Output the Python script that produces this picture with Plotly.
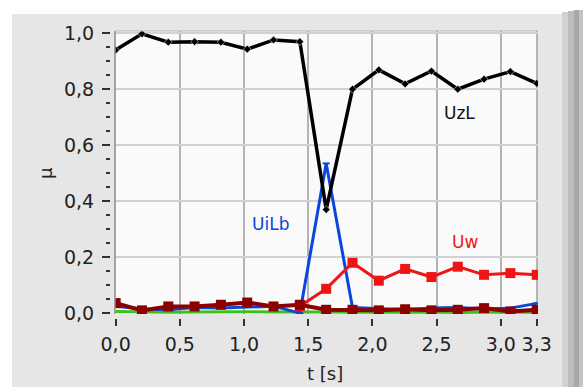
import plotly.graph_objects as go

W, H = 583, 387

t = [0.0, 0.205, 0.41, 0.615, 0.82, 1.025, 1.23, 1.435, 1.64, 1.845,
     2.05, 2.255, 2.46, 2.665, 2.87, 3.075, 3.28]
UzL = [0.94, 0.998, 0.968, 0.97, 0.968, 0.943, 0.976, 0.97, 0.37, 0.80,
       0.869, 0.819, 0.865, 0.80, 0.836, 0.863, 0.821]
UiLb = [0.025, 0.015, 0.012, 0.02, 0.018, 0.022, 0.025, 0.0, 0.535, 0.02,
        0.015, 0.012, 0.018, 0.02, 0.015, 0.018, 0.035]
Uw = [None, None, None, None, None, None, None, 0.025, 0.087, 0.18,
      0.116, 0.158, 0.129, 0.166, 0.137, 0.143, 0.137]
Udr = [0.036, 0.01, 0.024, 0.024, 0.03, 0.038, 0.024, 0.03, 0.012, 0.012,
       0.01, 0.014, 0.01, 0.012, 0.018, 0.006, 0.012]
Ugr = [0.006, 0.004, 0.003, 0.004, 0.005, 0.005, 0.004, 0.005, 0.004, 0.003,
       0.004, 0.004, 0.004, 0.002, 0.004, 0.003, 0.003]

x_ticks = [0, 0.5, 1.0, 1.5, 2.0, 2.5, 3.0, 3.28]
x_labels = ["0,0", "0,5", "1,0", "1,5", "2,0", "2,5", "3,0", "3,3"]
y_ticks = [0, 0.2, 0.4, 0.6, 0.8, 1.0]
y_labels = ["0,0", "0,2", "0,4", "0,6", "0,8", "1,0"]

# plot area in pixels
PL, PR, PT, PB = 115, 538, 31, 314

def px(v):
    return v / W

def py(v):
    return 1 - v / H

font = "DejaVu Sans"

fig = go.Figure()
fig.add_trace(go.Scatter(x=t, y=Ugr, mode="lines", line=dict(color="#3cc01e", width=3)))
fig.add_trace(go.Scatter(x=t, y=UiLb, mode="lines+markers",
                         line=dict(color="#0a46dc", width=3),
                         marker=dict(symbol="line-ew", size=5, line=dict(color="#0a46dc", width=2))))
fig.add_trace(go.Scatter(x=t, y=Uw, mode="lines+markers",
                         line=dict(color="#f01414", width=3),
                         marker=dict(symbol="square", size=10, color="#f01414")))
fig.add_trace(go.Scatter(x=t, y=Udr, mode="lines+markers",
                         line=dict(color="#8c0000", width=4),
                         marker=dict(symbol="square", size=10, color="#8c0000")))
fig.add_trace(go.Scatter(x=t, y=UzL, mode="lines+markers",
                         line=dict(color="#000000", width=3.5),
                         marker=dict(symbol="diamond", size=6, color="#000000",
                                     line=dict(color="#ffffff", width=0.5))))

shapes = [
    # grey panel
    dict(type="rect", xref="paper", yref="paper", x0=px(12), x1=1, y0=0, y1=py(14),
         fillcolor="#e6e6e6", line=dict(width=0), layer="below"),
    # plot background
    dict(type="rect", xref="paper", yref="paper", x0=px(PL), x1=px(PR), y0=py(PB), y1=py(PT),
         fillcolor="#fafafa", line=dict(width=0), layer="below"),
    # right shadow bar
    dict(type="rect", xref="paper", yref="paper", x0=px(562), x1=px(568), y0=0, y1=py(12),
         fillcolor="#d2d2d2", line=dict(width=0), layer="below"),
    dict(type="rect", xref="paper", yref="paper", x0=px(568), x1=px(574), y0=0, y1=py(11),
         fillcolor="#bcbcbc", line=dict(width=0), layer="below"),
    dict(type="rect", xref="paper", yref="paper", x0=px(574), x1=px(579), y0=0, y1=py(10),
         fillcolor="#a8a8a8", line=dict(width=0), layer="below"),
    dict(type="rect", xref="paper", yref="paper", x0=px(579), x1=1, y0=0, y1=py(10),
         fillcolor="#c4c4c4", line=dict(width=0), layer="below"),
    # left frame line
    dict(type="line", xref="paper", yref="paper", x0=px(PL), x1=px(PL), y0=py(PB), y1=py(PT),
         line=dict(color="#8a8a8a", width=1.5)),
    # top frame line
    dict(type="line", xref="paper", yref="paper", x0=px(PL), x1=px(PR), y0=py(PT), y1=py(PT),
         line=dict(color="#b4b4b4", width=1)),
]

annotations = [
    dict(text="UzL", x=2.68, y=0.715, xref="x", yref="y", showarrow=False,
         font=dict(family=font, size=17, color="#111111")),
    dict(text="UiLb", x=1.21, y=0.32, xref="x", yref="y", showarrow=False,
         font=dict(family=font, size=17, color="#0a46dc")),
    dict(text="Uw", x=2.72, y=0.255, xref="x", yref="y", showarrow=False,
         font=dict(family=font, size=17, color="#f01414")),
    dict(text="μ", x=px(45), y=py(173), xref="paper", yref="paper", showarrow=False,
         xanchor="center", yanchor="middle",
         textangle=-90, font=dict(family=font, size=18, color="#222222")),
    dict(text="t [s]", x=px(325), y=py(373), xref="paper", yref="paper", showarrow=False,
         xanchor="center", yanchor="middle",
         font=dict(family=font, size=18, color="#222222")),
]

fig.update_layout(
    width=W, height=H,
    margin=dict(l=0, r=0, t=0, b=0, autoexpand=False),
    paper_bgcolor="#ffffff",
    plot_bgcolor="#fafafa",
    showlegend=False,
    shapes=shapes,
    annotations=annotations,
    xaxis=dict(domain=[px(PL), px(PR)], range=[-0.005, 3.29],
               anchor="free", position=py(318), automargin=False,
               tickvals=x_ticks, ticktext=x_labels,
               ticks="outside", ticklen=7, tickwidth=1.5, tickcolor="#333333",
               ticklabelstandoff=2,
               tickfont=dict(family=font, size=19, color="#222222"),
               showgrid=True, gridcolor="#b4b4b4", gridwidth=1.5,
               showline=False, zeroline=False, fixedrange=True),
    yaxis=dict(domain=[py(PB), py(PT)], range=[-0.003, 1.008],
               anchor="free", position=px(110), automargin=False,
               tickvals=y_ticks, ticktext=y_labels,
               ticks="outside", ticklen=8, tickwidth=1.5, tickcolor="#333333",
               ticklabelstandoff=4,
               minor=dict(dtick=0.05, tick0=0, ticks="outside", ticklen=4,
                          tickwidth=1.5, tickcolor="#333333", showgrid=False),
               tickfont=dict(family=font, size=19, color="#222222"),
               showgrid=True, gridcolor="#d2d2d2", gridwidth=1.5,
               showline=False, zeroline=False, fixedrange=True),
)

fig.write_html("out.html", config={"displayModeBar": False},
               post_script="document.body.style.margin='0';")
